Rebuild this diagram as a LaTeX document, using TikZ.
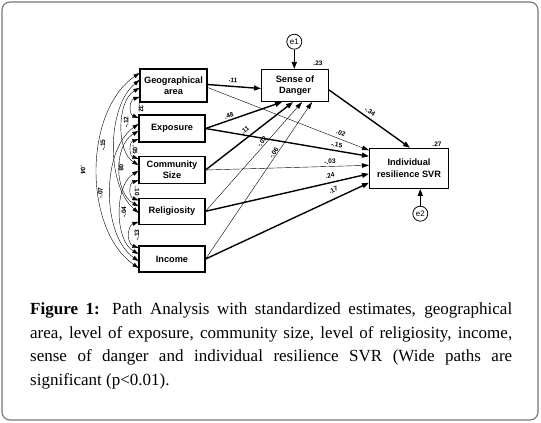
\documentclass[tikz,border=0pt]{standalone}
\usepackage{fontspec}
\setmainfont{Liberation Serif}
\newfontfamily\arial{Liberation Sans}
\usetikzlibrary{arrows.meta}
\begin{document}
\begin{tikzpicture}[x=1pt,y=-1pt,
  frame/.style={draw=black!55, line width=1.1pt, rounded corners=8pt},
  var/.style={draw, line width=1.1pt, minimum width=66pt, inner sep=0pt, align=center,
    font=\arial\bfseries\fontsize{9.2}{11.2}\selectfont},
  err/.style={draw, circle, line width=0.8pt, minimum size=15pt, inner sep=0pt,
    font=\arial\fontsize{8}{9}\selectfont},
  est/.style={font=\arial\bfseries\fontsize{6.5}{7}\selectfont, inner sep=0pt},
  sig/.style={line width=1.4pt, -{Triangle[length=7pt,width=5pt]}},
  ns/.style={line width=0.4pt, -{Triangle[length=7pt,width=4.5pt]}},
  cov/.style={line width=0.4pt, {Triangle[length=6pt,width=4pt]}-{Triangle[length=6pt,width=4pt]}},
  capline/.style={anchor=base west, inner sep=0pt, font=\fontsize{17}{23.5}\selectfont}
]
\useasboundingbox (0,0) rectangle (541,423);
\draw[frame] (2,2) rectangle (538,420);

% variables
\node[var, minimum width=67pt, minimum height=33pt] (geo) at (173.5,85.5) {Geographical\\area};
\node[var, minimum height=27pt] (exp) at (172,128.5) {Exposure};
\node[var, minimum height=27pt] (com) at (172,170) {Community\\Size};
\node[var, minimum height=26pt] (rel) at (172,211.3) {Religiosity};
\node[var, minimum height=26pt] (inc) at (172,259) {Income};
\node[var, minimum width=67pt, minimum height=32pt] (dan) at (295,85.5) {Sense of\\Danger};
\node[var, minimum width=79pt, minimum height=40pt] (ind) at (409,168.3) {Individual\\resilience SVR};
\node[err] (e1) at (294.3,41.7) {e1};
\node[err] (e2) at (420.3,213.7) {e2};

% squared multiple correlations
\node[est] (r23) at (318,63) {.23};
\node[est] (r27) at (437,144) {.27};

% error arrows
\draw[sig] (e1.south) -- (e1.south |- dan.north);
\draw[sig] (e2.north) -- (e2.north |- ind.south);

% paths
\draw[sig] ([yshift=1pt]geo.east) -- ([yshift=-3pt]dan.west);
\draw[ns] ([yshift=-2pt]geo.east) -- ([yshift=18pt]ind.west);
\draw[sig] (exp.east) -- ([xshift=-13pt]dan.south);
\draw[sig] (exp.east) -- ([yshift=12pt]ind.west);
\draw[sig] (com.east) -- ([xshift=-2pt]dan.south);
\draw[ns] (com.east) -- ([yshift=3pt]ind.west);
\draw[ns] (rel.east) -- ([xshift=7pt]dan.south);
\draw[sig] (rel.east) -- ([yshift=-5.5pt]ind.west);
\draw[ns] (inc.east) -- ([xshift=17pt]dan.south);
\draw[sig] (inc.east) -- ([yshift=-14.5pt]ind.west);
\draw[sig] ([yshift=-4.5pt]dan.east) -- ([xshift=1pt]ind.north);

% path estimates
\node[est, rotate=-4] (p1) at (233,80) {.11};
\node[est, rotate=19] (p2) at (229,116) {.48};
\node[est, rotate=38] (p3) at (245,130) {.11};
\node[est, rotate=49] (p4) at (262,142) {-.02};
\node[est, rotate=56] (p5) at (274,153) {-.06};
\node[est, rotate=-21] (p6) at (341,133) {.02};
\node[est, rotate=-10] (p7) at (336.7,145) {-.15};
\node[est, rotate=2] (p8) at (330,161.7) {-.03};
\node[est, rotate=13] (p9) at (330,175.7) {.24};
\node[est, rotate=25] (p10) at (333.3,190) {.17};
\node[est, rotate=-35] (p11) at (370,111.7) {-.34};

% covariances
\draw[cov] ([yshift=12.5pt]geo.west) to[bend right=55, looseness=0.89] ([yshift=-9pt]inc.west);
\draw[cov] ([yshift=5.5pt]geo.west) to[bend right=50, looseness=0.82] ([yshift=-1.5pt]rel.west);
\draw[cov] ([yshift=4.5pt]exp.west) to[bend right=55, looseness=0.85] ([yshift=-2pt]inc.west);
\draw[cov] ([yshift=-2.5pt]geo.west) to[bend right=60, looseness=0.86] ([yshift=5pt]com.west);
\draw[cov] ([yshift=-2.5pt]exp.west) to[bend right=60, looseness=0.97] ([yshift=5pt]rel.west);
\draw[cov] ([yshift=-1pt]com.west) to[bend right=60, looseness=0.86] ([yshift=5pt]inc.west);
\draw[cov] ([yshift=-11.5pt]geo.west) to[bend right=70, looseness=1.3] ([yshift=10.5pt]exp.west);
\draw[cov] ([yshift=-10.5pt]exp.west) to[bend right=70, looseness=1.3] ([yshift=11pt]com.west);
\draw[cov] ([yshift=-10pt]com.west) to[bend right=70, looseness=1.3] ([yshift=11pt]rel.west);
\draw[cov] ([yshift=-10.5pt]rel.west) to[bend right=70, looseness=1.2] ([yshift=11pt]inc.west);

% covariance estimates
\node[est, rotate=-90] (c1) at (141,107) {-.32};
\node[est, rotate=90] (c2) at (126,122) {-.12};
\node[est, rotate=-90] (c3) at (135,150) {.05};
\node[est, rotate=-90] (c4) at (121,167) {.08};
\node[est, rotate=-90] (c5) at (137,191.5) {.10};
\node[est, rotate=90] (c6) at (124,212) {-.04};
\node[est, rotate=90] (c7) at (137,235) {-.13};
\node[est, rotate=90] (c8) at (103,145) {-.15};
\node[est, rotate=90] (c9) at (100.5,193) {-.07};
\node[est, rotate=-90] (c10) at (83,170) {.04};

% caption
\node[capline] (cap1) at (30,314.5) {\makebox[482pt][s]{\textbf{Figure 1:} Path Analysis with standardized estimates, geographical}};
\node[capline] (cap2) at (30,338) {\makebox[482pt][s]{area, level of exposure, community size, level of religiosity, income,}};
\node[capline] (cap3) at (30,361.5) {\makebox[482pt][s]{sense of danger and individual resilience SVR (Wide paths are}};
\node[capline] (cap4) at (30,385) {significant (p<0.01).};
\end{tikzpicture}
\end{document}
